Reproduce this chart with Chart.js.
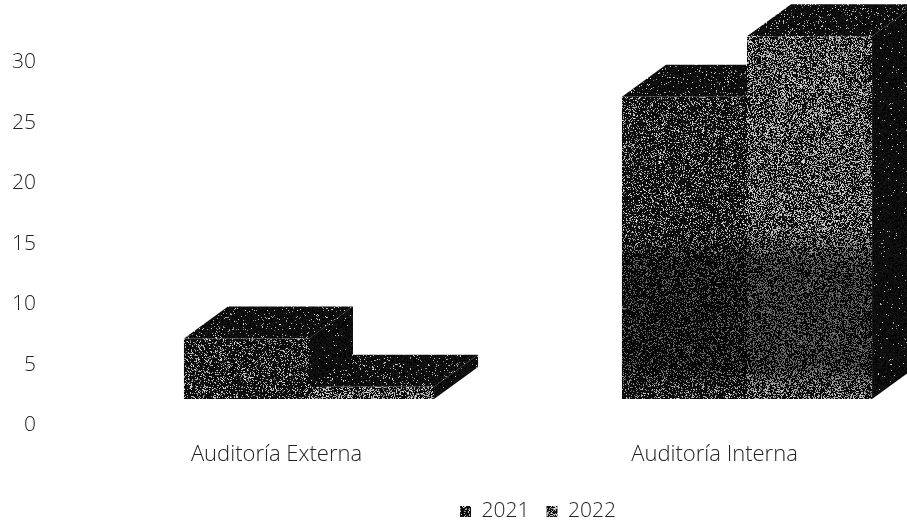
<!DOCTYPE html>
<html>
<head>
<meta charset="utf-8">
<style>
  html, body { margin: 0; background: #fff; overflow: hidden; }
  #wrap { width: 907px; height: 525px; overflow: hidden; }
  canvas { display: block; }
</style>
<script src="https://cdn.jsdelivr.net/npm/chart.js@4"></script>
</head>
<body>
<div id="wrap"><canvas id="barChart" width="1076" height="532"></canvas></div>
<script>
const categories = ['Auditoría Externa', 'Auditoría Interna'];
const years = ['2021', '2022'];
const values2021 = [5, 25];
const values2022 = [1, 30];
const yTicks = [0, 5, 10, 15, 20, 25, 30];

// scanned look: speckled fill, same every run
function speckle(whiteShare, seed) {
  const c = document.createElement('canvas');
  c.width = c.height = 256;
  const g = c.getContext('2d');
  const img = g.createImageData(256, 256);
  let s = seed;
  const next = () => (s = (s * 1664525 + 1013904223) >>> 0) / 4294967296;
  for (let i = 0; i < img.data.length; i += 4) {
    next();
    const v = next() < whiteShare ? 120 + next() * 110 : next() * 25;
    img.data[i] = img.data[i + 1] = img.data[i + 2] = v;
    img.data[i + 3] = 255;
  }
  g.putImageData(img, 0, 0);
  return g.createPattern(c, 'repeat');
}

const ctx = document.getElementById('barChart').getContext('2d');
const front2021 = speckle(0.22, 11);
const front2022 = speckle(0.4, 23);
const topFace = speckle(0.07, 37);
const sideFace = speckle(0.02, 53);

const depthX = 44;
const depthY = 32;

function poly(g, fill, pts) {
  g.fillStyle = fill;
  g.beginPath();
  pts.forEach((p, i) => (i ? g.lineTo(p[0], p[1]) : g.moveTo(p[0], p[1])));
  g.closePath();
  g.fill();
}

// top and side faces go under the front faces drawn by the bar controller
const depthFaces = {
  id: 'depthFaces',
  beforeDatasetsDraw(chart) {
    const g = chart.ctx;
    chart.getSortedVisibleDatasetMetas().slice().sort((a, b) => a.index - b.index).forEach(meta => {
      meta.data.forEach(bar => {
        const l = bar.x - bar.width / 2;
        const r = bar.x + bar.width / 2;
        poly(g, sideFace, [[r, bar.y], [r + depthX, bar.y - depthY], [r + depthX, bar.base - depthY], [r, bar.base]]);
        poly(g, topFace, [[l, bar.y], [l + depthX, bar.y - depthY], [r + depthX, bar.y - depthY], [r, bar.y]]);
      });
    });
  },
  // darker patch low on the tall bars, from the scan
  afterDatasetsDraw(chart) {
    const g = chart.ctx;
    const y1 = chart.scales.y1;
    const shade = g.createLinearGradient(0, y1.getPixelForValue(14), 0, y1.getPixelForValue(0));
    shade.addColorStop(0, 'rgba(0,0,0,0)');
    shade.addColorStop(0.2, 'rgba(0,0,0,0.45)');
    shade.addColorStop(0.8, 'rgba(0,0,0,0.45)');
    shade.addColorStop(1, 'rgba(0,0,0,0)');
    chart.getSortedVisibleDatasetMetas().forEach(meta => {
      const bar = meta.data[1];
      g.fillStyle = shade;
      g.fillRect(bar.x - bar.width / 2, y1.getPixelForValue(14), bar.width, bar.base - y1.getPixelForValue(14));
    });
  }
};

new Chart(ctx, {
  type: 'bar',
  data: {
    labels: categories,
    datasets: [
      { label: years[0], data: values2021, backgroundColor: front2021, yAxisID: 'y1', categoryPercentage: 0.571, barPercentage: 1 },
      { label: years[1], data: values2022, backgroundColor: front2022, yAxisID: 'y1', categoryPercentage: 0.571, barPercentage: 1 }
    ]
  },
  plugins: [depthFaces],
  options: {
    responsive: false,
    animation: false,
    layout: { padding: { top: 2, right: 0, left: 0, bottom: 0 } },
    plugins: {
      tooltip: { enabled: false },
      legend: {
        position: 'bottom',
        labels: {
          boxWidth: 11,
          boxHeight: 11,
          padding: 17,
          color: '#222',
          font: { family: '"Open Sans"', size: 21, weight: '300' }
        }
      }
    },
    scales: {
      x: {
        grid: { display: false, drawTicks: false },
        border: { display: false },
        afterFit(scale) { scale.height = 59; },
        ticks: {
          padding: 17,
          labelOffset: -32.5,
          maxRotation: 0,
          color: '#222',
          font: { family: '"Open Sans"', size: 22, weight: '300' }
        }
      },
      y: {
        min: 0,
        max: 35,
        grid: { display: false, drawTicks: false },
        border: { display: false },
        // the wide tick padding must not eat into the plot height
        afterFit(scale) { scale.width = 90; scale.paddingTop = 0; scale.paddingBottom = 0; },
        afterBuildTicks(scale) { scale.ticks = yTicks.map(value => ({ value })); },
        ticks: {
          padding: 54,
          color: '#222',
          font: { family: '"Open Sans"', size: 21, weight: '300' }
        }
      },
      // bars stand on the floor of the 3D box, above the 0 label;
      // this axis draws nothing, it only keeps room on the right
      y1: {
        position: 'right',
        min: -2.156,
        max: 32.844,
        grid: { display: false, drawTicks: false },
        border: { display: false },
        ticks: { display: false },
        afterFit(scale) { scale.width = 110; scale.paddingTop = 0; scale.paddingBottom = 0; }
      }
    }
  }
});
</script>
</body>
</html>
